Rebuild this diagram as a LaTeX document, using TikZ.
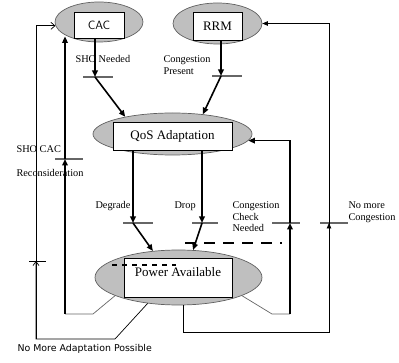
\documentclass[tikz,border=0pt]{standalone}
\usepackage{fontspec}
\setmainfont{Liberation Serif}
\newfontfamily\notesans{DejaVu Sans}
\usetikzlibrary{shapes.geometric,arrows.meta}

\begin{document}
\begin{tikzpicture}[x=1pt, y=-1pt, font=\fontsize{10.3}{11.5}\selectfont,
  oval/.style={ellipse, draw=gray!75!black, fill=gray!50, line width=0.7pt, inner sep=0pt},
  box/.style={draw, fill=white, line width=0.8pt, inner sep=0pt, font=\fontsize{13}{14}\selectfont},
  flow/.style={line width=1.6pt, -{Triangle[length=6.5pt,width=5.5pt]}},
  thinflow/.style={line width=0.8pt, -{Triangle[length=5.5pt,width=4.5pt]}},
  bar/.style={gray!80!black, line width=1.1pt}]
  \useasboundingbox (0,0) rectangle (399,363);

  % ovals and boxes
  \node[oval, minimum width=88, minimum height=40] (cacE) at (99,22) {};
  \node[box, minimum width=50, minimum height=26, font=\sffamily\fontsize{12}{14}\selectfont] (cac) at (99,25) {CAC};
  \node[oval, minimum width=89, minimum height=41] (rrmE) at (217.5,23.5) {};
  \node[box, minimum width=49, minimum height=28] (rrm) at (217.5,26) {RRM};
  \node[oval, minimum width=159, minimum height=42] (qosE) at (172.5,134) {};
  \node[box, minimum width=119, minimum height=28] (qos) at (172.5,136) {QoS Adaptation};
  \node[oval, minimum width=167, minimum height=55] (powE) at (178.5,277.5) {};
  \node[box, minimum width=108, minimum height=39, text depth=12pt] (pow) at (178,277.5) {Power Available};
  \draw[line width=1.2pt, dash pattern=on 5pt off 5pt] (112,265) -- (176,265);

  % ticks
  \foreach \l/\r/\y in {83/113/77, 212/242/76, 55/83/159, 123/153/223, 192/218/223, 272/300/223, 320/348/223}
    \draw[bar] (\l,\y) -- (\r,\y);
  \draw[line width=0.7pt] (29,261) -- (46,261);

  \coordinate (sho) at (95,77);
  \coordinate (cgp) at (221,76);
  \coordinate (deg) at (133,223);
  \coordinate (drp) at (202,223);
  \coordinate (ccn) at (290,223);
  \coordinate (nmc) at (329,223);
  \coordinate (rec) at (65,159);
  \coordinate (nma) at (36,261);

  % CAC and RRM into QoS
  \draw[flow] (cac.south -| sho) -- (sho);
  \draw[flow] (sho) -- (qosE.160);
  \draw[flow] (rrm.south -| cgp) -- (cgp);
  \draw[flow] (cgp) -- (qosE.33);

  % QoS into Power Available
  \draw[flow] (qos.south -| deg) -- (deg);
  \draw[flow] (deg) -- (powE.134);
  \draw[flow] (qos.south -| drp) -- (drp);
  \draw[flow] (drp) -- (powE.62);
  \draw[line width=1.6pt, dash pattern=on 11pt off 8pt] (185,243) -- (282,243);

  % back to QoS
  \draw[gray!80!black, line width=0.7pt] (powE.344) -- (272,314) -- (ccn |- 0,314);
  \draw[flow] (ccn |- 0,314) -- (ccn);
  \draw[flow] (ccn) -- (ccn |- qosE.355) -- (qosE.355);

  % back to RRM
  \draw[line width=0.8pt] (powE.south -| 183,0) -- (183,332) -- (nmc |- 0,332) -- (nmc);
  \draw[thinflow] (nmc |- 0,332) -- (nmc);
  \draw[thinflow] (nmc) -- (nmc |- rrmE.east) -- (rrmE.east);

  % back to CAC
  \draw[gray!80!black, line width=0.7pt] (powE.196) -- (93,314) -- (rec |- 0,314);
  \draw[flow] (rec |- 0,314) -- (rec);
  \draw[flow] (rec) -- (rec |- cacE.south west);
  \draw[line width=0.7pt] (powE.220) -- (115,339) -- (nma |- 0,339) -- (nma);
  \draw[line width=0.7pt, -{Straight Barb[length=4pt,width=6pt]}] (nma |- 0,339) -- (nma);
  \draw[line width=0.7pt, -{Straight Barb[length=4pt,width=7pt]}] (nma) -- (nma |- cacE.185) -- (cacE.185);

  % labels
  \node[anchor=west] (lsho) at (72,59) {SHO Needed};
  \node[anchor=west, align=left] (lcgp) at (160,65) {Congestion\\Present};
  \node[anchor=west] (lrec1) at (13,149) {SHO CAC};
  \node[anchor=west] (lrec2) at (13,173) {Reconsideration};
  \node[anchor=west] (ldeg) at (92,206) {Degrade};
  \node[anchor=west] (ldrp) at (171,206) {Drop};
  \node[anchor=west, align=left] (lccn) at (229,217) {Congestion\\Check\\Needed};
  \node[anchor=west, align=left] (lnmc) at (345,212) {No more\\Congestion};
  \node[anchor=west, font=\notesans\fontsize{9.4}{11}\selectfont] (lnma) at (14,349) {No More Adaptation Possible};
\end{tikzpicture}
\end{document}
